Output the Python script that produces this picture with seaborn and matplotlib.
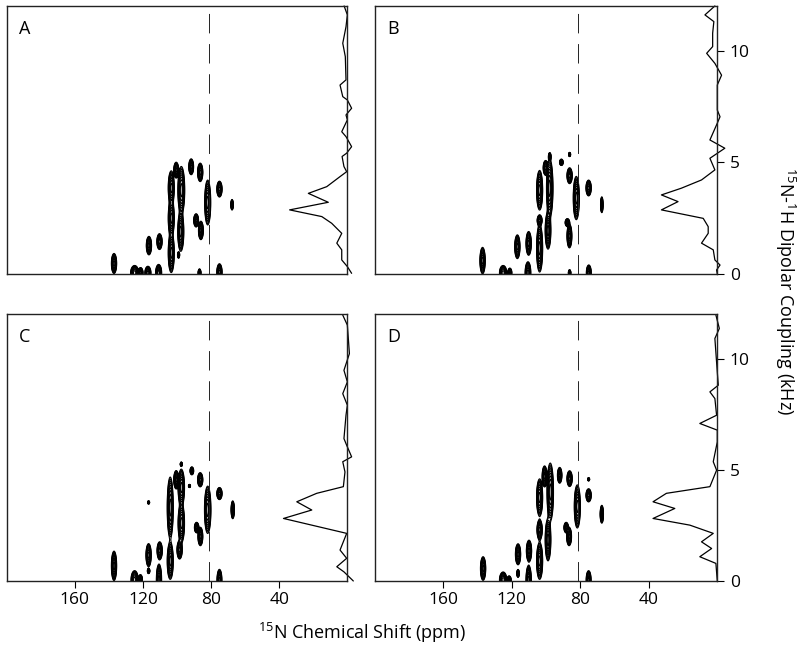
import numpy as np
import seaborn as sns
import matplotlib
matplotlib.use("Agg")
import matplotlib.pyplot as plt

# ---- data ---------------------------------------------------------------
# peaks: (15N shift ppm, dipolar coupling kHz, half-width ppm, half-height kHz)
peaks_A = [
    (137.0, 0.47, 1.3, 0.38), (124.9, 0.05, 2.0, 0.28), (121.4, 0.05, 1.2, 0.2),
    (117.1, 0.05, 1.5, 0.25), (110.8, 0.05, 1.5, 0.32), (116.5, 1.27, 1.3, 0.35),
    (110.3, 1.45, 1.3, 0.3), (103.4, 3.85, 1.5, 0.65), (103.4, 2.5, 1.5, 0.7),
    (103.4, 0.95, 1.5, 0.75), (97.5, 3.75, 1.7, 0.9), (97.8, 1.9, 1.5, 0.75),
    (100.5, 4.65, 1.2, 0.3), (91.7, 4.8, 1.2, 0.3), (86.4, 4.55, 1.3, 0.35),
    (82.0, 3.2, 1.5, 0.85), (88.8, 2.4, 1.2, 0.25), (86.0, 1.95, 1.2, 0.35),
    (75.1, 3.8, 1.3, 0.3), (67.7, 3.1, 0.6, 0.2), (86.8, 0.05, 0.7, 0.15),
    (75.1, 0.08, 1.3, 0.32), (99.1, 0.85, 0.5, 0.12),
]
peaks_B = [
    (137.0, 0.6, 1.3, 0.5), (125.0, 0.05, 1.8, 0.28), (121.1, 0.05, 1.0, 0.18),
    (110.5, 0.05, 1.4, 0.42), (86.2, 0.05, 0.6, 0.12), (75.0, 0.05, 1.2, 0.3),
    (116.7, 1.22, 1.3, 0.45), (110.1, 1.37, 1.3, 0.45), (103.7, 3.75, 1.5, 0.75),
    (103.7, 2.4, 1.2, 0.2), (103.7, 1.15, 1.5, 0.9), (97.8, 3.84, 1.6, 1.1),
    (100.2, 4.75, 1.2, 0.28), (98.8, 1.94, 1.4, 0.7), (97.8, 5.25, 0.6, 0.15),
    (91.0, 5.0, 0.9, 0.12), (86.2, 5.35, 0.5, 0.08), (86.2, 4.4, 1.3, 0.3),
    (87.5, 2.3, 1.1, 0.15), (86.3, 1.7, 1.2, 0.45), (82.3, 3.4, 1.5, 0.82),
    (75.1, 3.85, 1.3, 0.3), (67.4, 3.1, 0.6, 0.3),
]
peaks_C = [
    (137.0, 0.68, 1.3, 0.56), (124.9, 0.05, 1.8, 0.35), (121.5, 0.05, 1.0, 0.2),
    (116.7, 0.45, 0.6, 0.1), (110.6, 0.05, 1.3, 0.6), (75.1, 0.05, 1.2, 0.4),
    (116.7, 3.53, 0.5, 0.06), (116.7, 1.16, 1.3, 0.44), (110.2, 1.36, 1.3, 0.34),
    (104.0, 3.3, 1.5, 1.16), (104.0, 0.9, 1.5, 0.7), (97.5, 4.2, 1.6, 0.7),
    (97.5, 2.6, 1.6, 0.75), (100.5, 4.55, 1.2, 0.35), (98.5, 1.4, 1.3, 0.35),
    (97.5, 5.25, 0.5, 0.08), (91.3, 4.95, 0.9, 0.15), (92.7, 4.27, 0.5, 0.06),
    (86.4, 4.55, 1.3, 0.27), (88.5, 2.4, 1.1, 0.2), (86.3, 2.0, 1.2, 0.35),
    (82.0, 3.2, 1.6, 0.9), (75.1, 3.93, 1.3, 0.23), (67.3, 3.2, 0.8, 0.34),
]
peaks_D = [
    (136.7, 0.56, 1.3, 0.45), (125.0, 0.05, 1.8, 0.3), (121.5, 0.05, 1.0, 0.15),
    (116.3, 0.34, 0.6, 0.15), (110.1, 0.05, 1.3, 0.55), (75.1, 0.05, 1.2, 0.35),
    (116.3, 1.2, 1.3, 0.4), (109.9, 1.35, 1.3, 0.41), (103.7, 3.75, 1.5, 0.71),
    (103.7, 2.3, 1.3, 0.38), (103.7, 0.9, 1.5, 0.7), (100.8, 4.7, 1.2, 0.4),
    (97.5, 4.0, 1.6, 1.1), (98.8, 1.85, 1.4, 0.8), (92.0, 4.75, 1.1, 0.3),
    (86.2, 4.6, 1.3, 0.3), (88.2, 2.4, 1.1, 0.2), (86.5, 2.0, 1.2, 0.35),
    (81.7, 3.35, 1.5, 0.82), (75.1, 3.85, 1.3, 0.25), (75.1, 4.57, 0.5, 0.06),
    (67.4, 3.0, 0.8, 0.34),
]

# 1D dipolar projections: coupling (kHz) and deflection (ppm units from the right edge)
trace_A_khz = [12.0, 11.6, 11.07, 10.33, 9.73, 8.69, 8.46, 7.94, 7.79, 7.42, 7.12, 6.9,
               6.37, 6.15, 5.7, 5.41, 5.26, 4.81, 4.58, 4.36, 3.91, 3.61, 3.21, 2.87,
               2.57, 2.27, 1.82, 1.38, 1.08, 0.63, 0.33, 0.03]
trace_A_dev = [1.9, 0.0, 0.8, 2.7, 1.2, 0.8, 4.3, 2.7, 0.0, -2.5, 0.8, 0.0,
               3.3, 0.8, -2.5, 0.4, 3.1, 2.0, 0.4, 4.3, 12.1, 22.9, 11.2, 33.9,
               15.0, 9.2, 3.3, 6.2, 3.3, 3.3, 0.0, -2.5]
trace_B_khz = [12.0, 11.6, 11.3, 10.78, 10.18, 9.88, 9.43, 8.9, 8.46, 7.34, 7.04, 6.75,
               6.0, 5.63, 5.18, 4.66, 4.21, 3.84, 3.54, 3.24, 2.87, 2.49, 2.12, 1.82,
               1.38, 1.08, 0.63, 0.4, 0.18, 0.0]
trace_B_dev = [1.4, 7.2, 2.0, 2.7, 2.7, 6.2, 1.4, -2.5, 0.0, 0.0, -1.6, 0.0,
               4.3, -4.4, 4.3, 1.4, 9.2, 21.0, 32.6, 22.9, 32.6, 8.2, 5.3, 5.3,
               9.2, 2.35, 1.4, -1.6, 0.4, 0.0]
trace_C_khz = [11.95, 11.5, 10.22, 9.47, 8.95, 8.42, 7.9, 7.45, 6.4, 6.1, 5.58, 5.36,
               4.9, 4.24, 3.94, 3.56, 3.19, 2.81, 2.14, 1.39, 1.02, 0.64, 0.41, 0.0]
trace_C_dev = [2.7, 0.0, -1.2, 2.0, 0.0, 2.7, 0.0, 0.8, 2.0, 0.4, -2.5, 2.7,
               1.4, 2.35, 18.0, 29.7, 20.9, 37.5, 0.4, 4.3, 0.4, 6.2, 2.0, -3.5]
trace_D_khz = [11.95, 11.35, 10.9, 9.4, 8.8, 8.5, 8.2, 7.45, 7.08, 6.78, 6.25, 5.36,
               4.98, 4.24, 3.94, 3.56, 3.26, 2.81, 2.51, 2.14, 1.76, 1.46, 1.09, 0.79, 0.0]
trace_D_dev = [0.8, -1.2, 1.4, 0.0, -0.6, 4.3, 1.4, 0.4, 10.2, 0.0, 0.0, 2.35,
               0.4, 4.3, 29.7, 37.5, 24.8, 37.5, 16.0, 2.35, 9.2, 3.3, 10.2, 0.8, 0.0]

panel_labels = ["A", "B", "C", "D"]
x_ticks = [160, 120, 80, 40]
y_ticks = [0, 5, 10]
ref_shift = 81.5   # dashed reference line (ppm)

# ---- style ---------------------------------------------------------------
sns.set_theme(style="white")
plt.rcParams["font.family"] = ["Open Sans", "DejaVu Sans"]
plt.rcParams["mathtext.fontset"] = "custom"
plt.rcParams["mathtext.rm"] = "Open Sans"
plt.rcParams["text.color"] = "black"
plt.rcParams["xtick.color"] = "black"
plt.rcParams["ytick.color"] = "black"

ppm = np.arange(0, 200.01, 0.2)
khz = np.arange(-0.6, 12.01, 0.02)
PP, KK = np.meshgrid(ppm, khz)


def spectrum(peaks):
    z = np.zeros_like(PP)
    for c_ppm, c_khz, hw, hh in peaks:
        z += np.exp(-0.5 * (((PP - c_ppm) / (hw / 2)) ** 2 + ((KK - c_khz) / (hh / 2)) ** 2))
    return z


fig = plt.figure(figsize=(8, 6.55), dpi=100)
boxes = [
    [0.0084, 0.5817, 0.4258, 0.4092],
    [0.4683, 0.5817, 0.4283, 0.4092],
    [0.0084, 0.1130, 0.4258, 0.4076],
    [0.4683, 0.1130, 0.4283, 0.4076],
]
all_peaks = [peaks_A, peaks_B, peaks_C, peaks_D]
traces = [(trace_A_khz, trace_A_dev), (trace_B_khz, trace_B_dev),
          (trace_C_khz, trace_C_dev), (trace_D_khz, trace_D_dev)]
levels = np.exp(-2.8) * 1.38 ** np.arange(12)

for i, box in enumerate(boxes):
    ax = fig.add_axes(box)
    ax.contour(PP, KK, spectrum(all_peaks[i]), levels=levels, colors="black", linewidths=0.8)
    ax.axvline(ref_shift, color="#222222", lw=0.7, dashes=(20, 11))
    t_khz, t_dev = traces[i]
    sns.lineplot(x=t_dev, y=t_khz, sort=False, estimator=None, color="black", lw=0.9, ax=ax)
    ax.lines[-1].set_clip_on(False)
    ax.set_xlim(200, 0)
    ax.set_ylim(0, 12)
    ax.set_xlabel("")
    ax.set_ylabel("")
    for s in ax.spines.values():
        s.set_color("#222222")
        s.set_linewidth(1.0)
    ax.text(0.036, 0.915, panel_labels[i], transform=ax.transAxes, fontsize=13,
            ha="left", va="center")
    if i >= 2:
        ax.set_xticks(x_ticks)
        ax.tick_params(axis="x", bottom=True, direction="out", length=5, width=0.8,
                       labelsize=12.5, pad=3)
    else:
        ax.set_xticks([])
    if i % 2 == 1:
        ax.yaxis.tick_right()
        ax.set_yticks(y_ticks)
        ax.tick_params(axis="y", right=True, direction="out", length=5, width=0.8,
                       labelsize=12.5, pad=4)
    else:
        ax.set_yticks([])

fig.text(0.452, 0.034, r"$\mathregular{^{15}}$N Chemical Shift (ppm)", fontsize=13,
         ha="center", va="center")
fig.text(0.981, 0.555, r"$\mathregular{^{15}}$N-$\mathregular{^{1}}$H Dipolar Coupling (kHz)",
         fontsize=13, rotation=270, ha="center", va="center")

fig.savefig("out.png", dpi=100)
